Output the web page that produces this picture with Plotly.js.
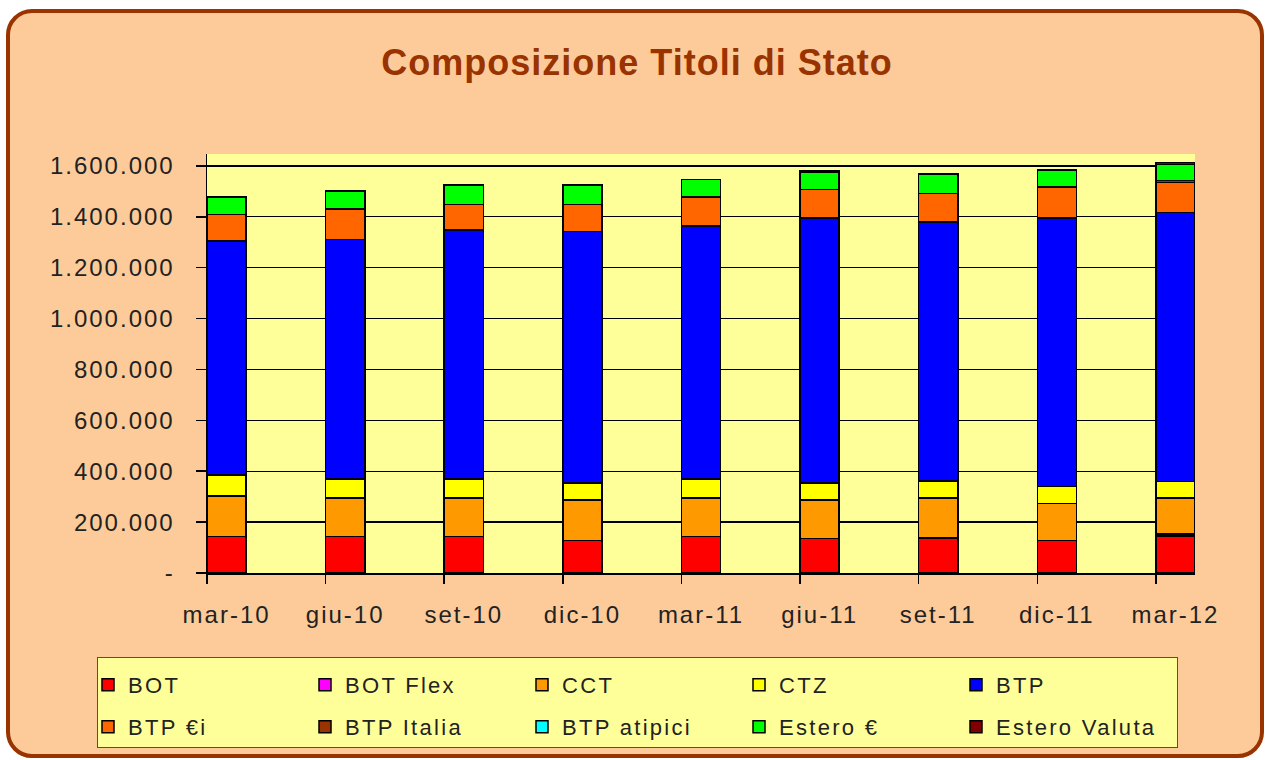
<!DOCTYPE html>
<html>
<head>
<meta charset="utf-8">
<script src="https://cdn.plot.ly/plotly-3.0.1.min.js"></script>
<style>
  html, body { margin: 0; padding: 0; background: #ffffff; width: 1269px; height: 760px; overflow: hidden; }
  #frame { position: absolute; left: 6px; top: 9px; width: 1250px; height: 741px;
           background: #FDCB9A; border: 4px solid #993300; border-radius: 26px; }
  #legendbox { position: absolute; left: 97px; top: 657px; width: 1079px; height: 89px;
           background: #FFFF99; border: 1.5px solid #6b4a2a; }
  #chart { position: absolute; left: 0; top: 0; width: 1269px; height: 760px; }
  #chart .xtick text, #chart .ytick text { letter-spacing: 2px; }
  #chart .infolayer text { letter-spacing: 2.3px; }
  #chart .infolayer text.gtitle { letter-spacing: 1px; }
</style>
</head>
<body>
<div id="frame"></div>
<div id="legendbox"></div>
<div id="chart"></div>
<script>
// ---- data ----
const periods = ["mar-10","giu-10","set-10","dic-10","mar-11","giu-11","set-11","dic-11","mar-12"];
const seriesNames = ["BOT","BOT Flex","CCT","CTZ","BTP","BTP €i","BTP Italia","BTP atipici","Estero €","Estero Valuta"];
const BOT          = [144000, 142700, 142700, 128200, 142700, 136100, 136100, 128200, 146000];
const BOT_Flex     = [0, 0, 0, 0, 0, 0, 4000, 0, 8000];
const CCT          = [158000, 153000, 153000, 159700, 151500, 151800, 154100, 145200, 140000];
const CTZ          = [82400, 73000, 73000, 66600, 74500, 66600, 68200, 66600, 66600];
const BTP          = [920500, 942800, 979300, 988300, 996200, 1040500, 1018100, 1055000, 1056800];
const BTP_ei       = [104700, 120000, 100800, 106000, 112500, 112600, 111400, 121600, 118400];
const BTP_Italia   = [0, 0, 0, 0, 0, 0, 0, 0, 8000];
const BTP_atipici  = [0, 0, 0, 0, 0, 0, 0, 0, 0];
const Estero_eur   = [69000, 69500, 75700, 75700, 69400, 69100, 76900, 66700, 62000];
const Estero_val   = [0, 0, 0, 0, 0, 6000, 0, 0, 7000];
const yTickVals    = [0, 200000, 400000, 600000, 800000, 1000000, 1200000, 1400000, 1600000];
const yTickText    = ["-", "200.000", "400.000", "600.000", "800.000", "1.000.000", "1.200.000", "1.400.000", "1.600.000"];
const chartTitle   = "Composizione Titoli di Stato";

// ---- styles ----
const colors = ["#FF0000","#FF00FF","#FF9900","#FFFF00","#0000FF","#FF6600","#993300","#00FFFF","#00FF00","#800000"];
const values = [BOT, BOT_Flex, CCT, CTZ, BTP, BTP_ei, BTP_Italia, BTP_atipici, Estero_eur, Estero_val];
const FONT = "Liberation Sans, Arial, sans-serif";
const barWidth = 0.33;
const half = barWidth / 2;
const perRow = 5;

const idx = periods.map((p, i) => i);
const traces = seriesNames.map((name, k) => ({
  type: "bar",
  name: name,
  x: idx,
  y: values[k],
  width: barWidth,
  legend: k < perRow ? "legend" : "legend2",
  marker: { color: colors[k], line: { color: "#000000", width: 1.5 } },
  hoverinfo: "skip"
}));
// invisible helper trace so the tick-mark axis is drawn
traces.push({ type: "scatter", x: [idx[0]], y: [0], xaxis: "x2", mode: "markers",
  marker: { opacity: 0 }, showlegend: false, hoverinfo: "skip" });

const xRange = [idx[0] - half, idx[idx.length - 1] + half];

// plot area in pixels: left 207, right 1195, top 154, bottom 573
const plotL = 207, plotW = 988, plotB = 573, plotH = 419;
const legendBase = {
  orientation: "h", traceorder: "normal",
  xref: "paper", yref: "paper", xanchor: "left", yanchor: "middle",
  x: (88 - plotL) / plotW,
  bgcolor: "rgba(0,0,0,0)", borderwidth: 0,
  font: { family: FONT, size: 22, color: "#222222" },
  entrywidth: 172, entrywidthmode: "pixels", itemwidth: 30
};

const layout = {
  width: 1269, height: 760,
  paper_bgcolor: "rgba(0,0,0,0)",
  plot_bgcolor: "#FFFF99",
  margin: { l: 207, r: 74, t: 154, b: 187, autoexpand: false },
  barmode: "stack",
  bargap: 0,
  title: { text: chartTitle, x: 0.502, xref: "container", xanchor: "center",
           y: 1 - 62 / 760, yref: "container", yanchor: "middle",
           font: { family: FONT, size: 36, color: "#993300", weight: "bold" } },
  font: { family: FONT, color: "#222222" },
  xaxis: {
    type: "linear", range: xRange, tickvals: idx, ticktext: periods,
    ticks: "", showgrid: false, zeroline: false,
    showline: true, linecolor: "#000000", linewidth: 1.5,
    tickfont: { family: FONT, size: 24, color: "#222222" },
    ticklabelstandoff: 20, automargin: false
  },
  xaxis2: {
    type: "linear", overlaying: "x", anchor: "y", side: "bottom", range: xRange,
    tickvals: idx.map(i => i - half), ticks: "outside", ticklen: 10, tickwidth: 1.5,
    tickcolor: "#000000", showticklabels: false, showgrid: false, zeroline: false, showline: false
  },
  yaxis: {
    range: [0, 1647000], tickvals: yTickVals, ticktext: yTickText,
    ticks: "outside", ticklen: 10, tickwidth: 1.5, tickcolor: "#000000",
    showgrid: true, gridcolor: "#000000", gridwidth: 1.3,
    zeroline: false, showline: true, linecolor: "#000000", linewidth: 1.5,
    tickfont: { family: FONT, size: 24, color: "#222222" },
    ticklabelstandoff: 16, automargin: false
  },
  showlegend: true,
  legend: Object.assign({}, legendBase, { y: (plotB - 685) / plotH }),
  legend2: Object.assign({}, legendBase, { y: (plotB - 727) / plotH })
};

Plotly.newPlot("chart", traces, layout, { staticPlot: true, displayModeBar: false });
</script>
</body>
</html>
